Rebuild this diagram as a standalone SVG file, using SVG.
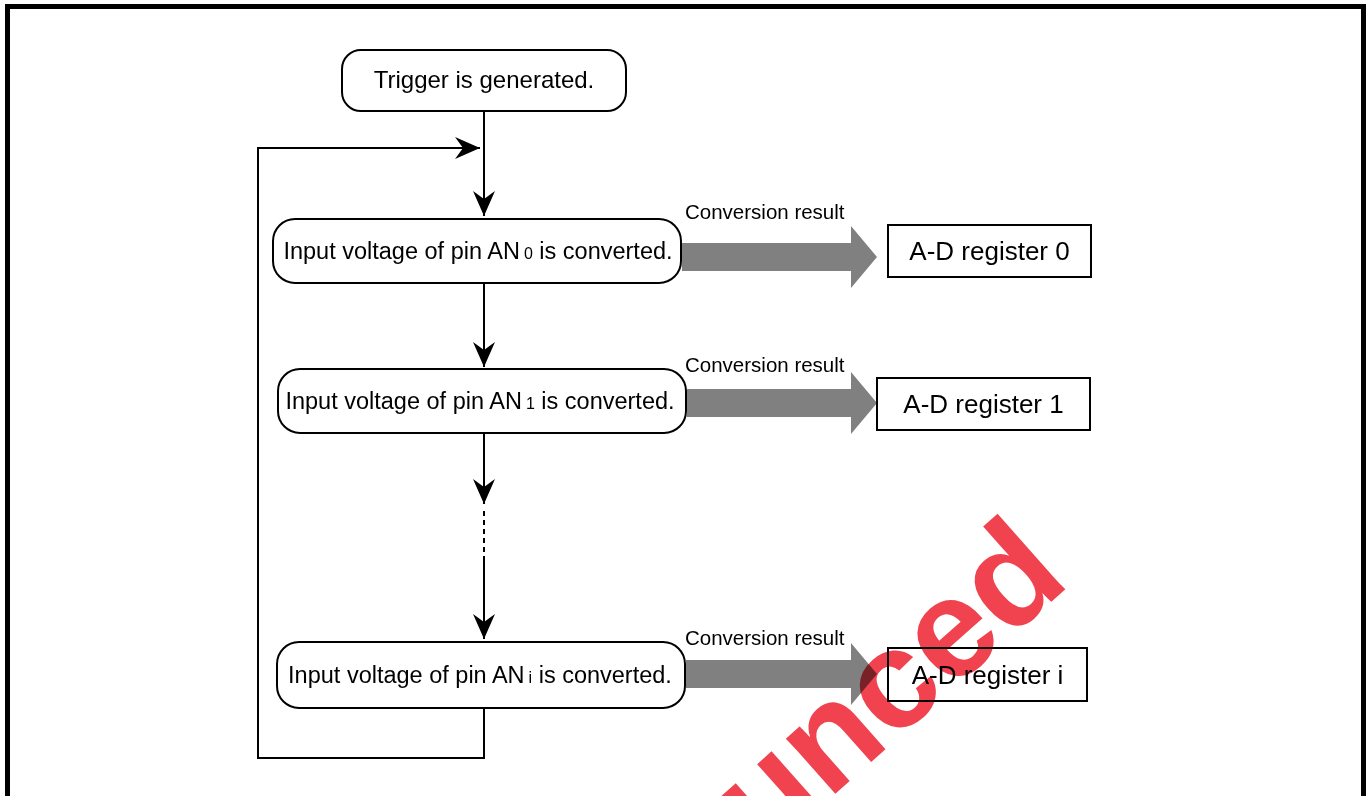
<svg xmlns="http://www.w3.org/2000/svg" width="1367" height="796" viewBox="0 0 1367 796">
<defs>
<marker id="ah" markerUnits="userSpaceOnUse" markerWidth="30" markerHeight="26" viewBox="-26 -13 30 26" refX="0" refY="0" orient="auto">
<path d="M0,0 L-25,-11 L-17,0 L-25,11 Z" fill="#000"/>
</marker>
<style>
.t{font-family:"Liberation Sans",Arial,sans-serif;fill:#000}
.box{fill:#fff;stroke:#000;stroke-width:2}
.ln{fill:none;stroke:#000;stroke-width:2}
.fat{fill:#808080}
.cr{font-size:20.5px}
.bt{font-size:23.5px}
.rt{font-size:26px}
</style>
</defs>
<rect width="1367" height="796" fill="#fff"/>
<rect x="7.5" y="6.5" width="1356" height="820" fill="none" stroke="#000" stroke-width="5"/>

<g id="connectors">
<path class="ln" d="M484,111 V216" marker-end="url(#ah)"/>
<path class="ln" d="M484,708 V758 H258 V148 H480" marker-end="url(#ah)"/>
<path class="ln" d="M484,283 V367" marker-end="url(#ah)"/>
<path class="ln" d="M484,433 V504" marker-end="url(#ah)"/>
<path class="ln" d="M484,511 V556" stroke-dasharray="5,4"/>
<path class="ln" d="M484,556 V639" marker-end="url(#ah)"/>
<path class="fat" d="M682,243 H851 V226 L877,257 L851,288 V271 H682 Z"/>
<path class="fat" d="M687,389 H851 V372 L877,403 L851,434 V417 H687 Z"/>
<path class="fat" d="M686,660 H851 V643 L877,674 L851,705 V688 H686 Z"/>
<text class="t cr" x="685" y="219">Conversion result</text>
<text class="t cr" x="685" y="372">Conversion result</text>
<text class="t cr" x="685" y="645">Conversion result</text>
</g>

<g id="trigger">
<rect class="box" x="342" y="50" width="284" height="61" rx="19"/>
<text class="t" x="484" y="88" font-size="24" text-anchor="middle">Trigger is generated.</text>
</g>

<g id="conv0">
<rect class="box" x="273" y="219" width="408" height="64" rx="22"/>
<text class="t bt" x="478" y="259" text-anchor="middle">Input voltage of pin AN<tspan font-size="16" dx="4">0</tspan><tspan> is converted.</tspan></text>
</g>

<g id="conv1">
<rect class="box" x="278" y="369" width="408" height="64" rx="22"/>
<text class="t bt" x="480" y="409" text-anchor="middle">Input voltage of pin AN<tspan font-size="16" dx="4">1</tspan><tspan> is converted.</tspan></text>
</g>

<g id="convi">
<rect class="box" x="277" y="642" width="408" height="66" rx="22"/>
<text class="t bt" x="480" y="683" text-anchor="middle">Input voltage of pin AN<tspan font-size="16" dx="4">i</tspan><tspan> is converted.</tspan></text>
</g>

<g id="reg0">
<rect class="box" x="888" y="225" width="203" height="52"/>
<text class="t rt" x="989.5" y="260" text-anchor="middle">A-D register 0</text>
</g>

<g id="reg1">
<rect class="box" x="877" y="378" width="213" height="52"/>
<text class="t rt" x="983.5" y="413" text-anchor="middle">A-D register 1</text>
</g>

<g id="regi">
<rect class="box" x="888" y="648" width="199" height="53"/>
<text class="t rt" x="987.5" y="684" text-anchor="middle">A-D register i</text>
</g>

<g id="watermark" style="mix-blend-mode:multiply">
<text x="764" y="857" transform="rotate(-41.6 764 857)" font-family="Liberation Sans, Arial, sans-serif" font-size="140" font-weight="bold" fill="#f0434f">unced</text>
</g>
</svg>
